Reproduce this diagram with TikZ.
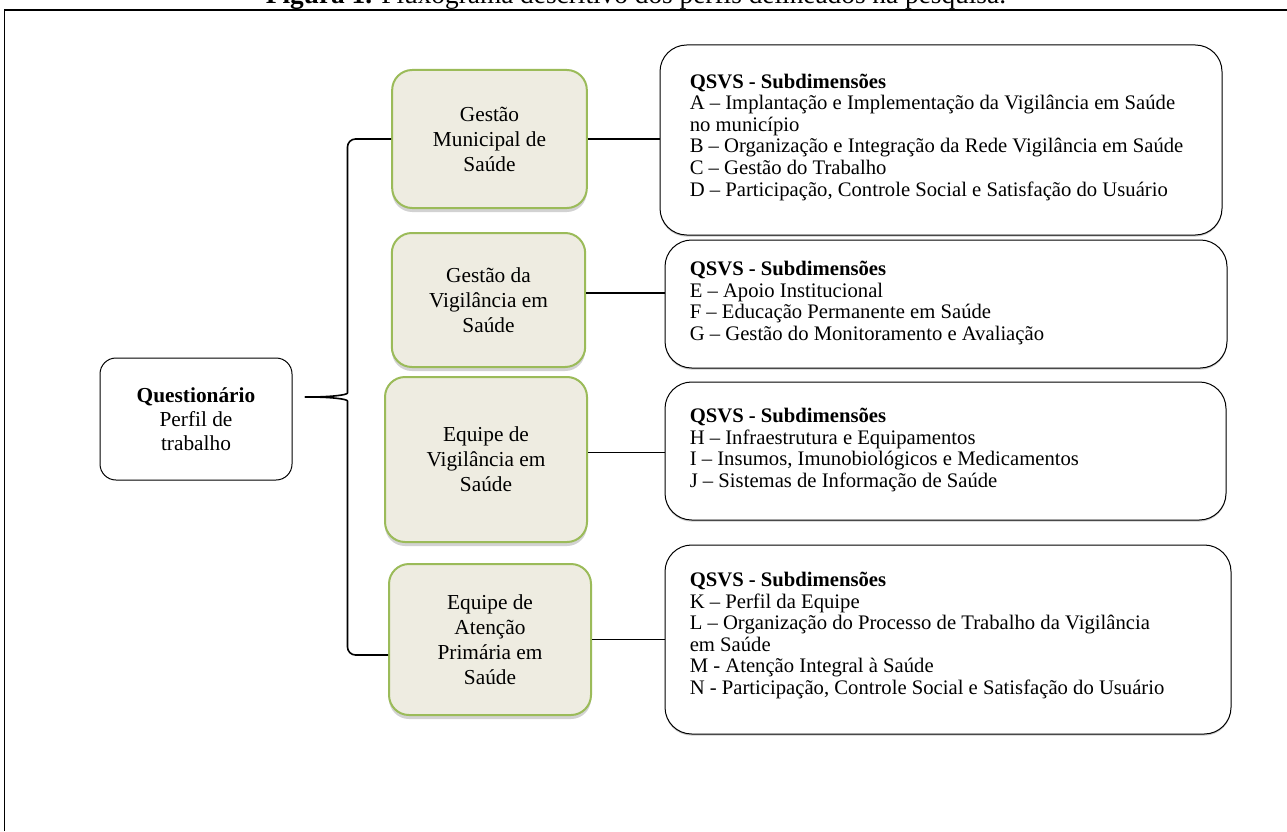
\documentclass[tikz,border=0pt]{standalone}
\usepackage{fontspec}
\setmainfont{Liberation Serif}
\usepackage{xcolor}
\usepackage{tikz}
\usetikzlibrary{calc,shadows}
\definecolor{ink}{HTML}{000000}
\definecolor{tan}{HTML}{EEECE1}
\definecolor{olive}{HTML}{9BBB59}
\definecolor{shade}{HTML}{7F7F7F}
\tikzset{
  profile/.style={draw=olive, fill=tan, line width=1.5pt, rounded corners=15pt, align=center,
    text=ink, font=\fontsize{16}{18.75}\selectfont,
    drop shadow={opacity=0.35, shadow xshift=0pt, shadow yshift=-3pt, fill=shade}},
  sub/.style={draw=ink, fill=white, line width=0.75pt, rounded corners=20pt,
    drop shadow={opacity=0.4, shadow xshift=0pt, shadow yshift=-1.2pt, fill=shade}},
  subtxt/.style={anchor=west, align=left, inner sep=0pt, text=ink, font=\fontsize{15.5}{16.2}\selectfont},
  quest/.style={draw=ink, fill=white, line width=0.75pt, rounded corners=12pt, align=center,
    minimum width=144pt, minimum height=91.5pt, text=ink, font=\fontsize{16}{18}\selectfont},
  link/.style={draw=ink, line width=1.2pt},
  brace/.style={draw=ink, line width=1.2pt, line join=round},
  frame/.style={draw=ink, line width=0.75pt},
  ttl/.style={text=ink, font=\fontsize{20.5}{22}\selectfont, anchor=base, inner sep=0pt},
}

\begin{document}
\begin{tikzpicture}[x=0.75pt, y=-0.75pt]
  \useasboundingbox (0,0) rectangle (1287,831);
  \fill[white] (0,0) rectangle (1287,831);
  \node[ttl] (title) at (636,4) {\textbf{Figura 1.} Fluxograma descritivo dos perfis delineados na pesquisa.};
  \draw[frame] (4,831) -- (4,10);
  \draw[frame, line width=1.5pt] (4,10) -- (1290,10);

  \node[quest] (q) at (196,419) {\textbf{Questionário}\\Perfil de\\trabalho};

  \node[profile, minimum width=146pt, minimum height=103.5pt] (b1) at (489.5,139) {Gestão\\Municipal de\\Saúde};
  \node[profile, minimum width=145pt, minimum height=100.5pt] (b2) at (488.5,300) {Gestão da\\Vigilância em\\Saúde};
  \node[profile, minimum width=151.5pt, minimum height=123.75pt] (b3) at (486,459.5) {Equipe de\\Vigilância em\\Saúde};
  \node[profile, minimum width=151.5pt, minimum height=113.25pt] (b4) at (490,639.5) {Equipe de\\Atenção\\Primária em\\Saúde};

  \node[sub, minimum width=421.5pt, minimum height=142.5pt] (t1) at (941,140) {};
  \node[sub, minimum width=421.5pt, minimum height=96pt] (t2) at (946,304) {};
  \node[sub, minimum width=420.75pt, minimum height=103.5pt] (t3) at (945.5,451) {};
  \node[sub, minimum width=424.5pt, minimum height=141.75pt] (t4) at (948,639.5) {};

  \node[subtxt] (t1x) at ($(t1.west)+(30,-3)$) {\textbf{QSVS - Subdimensões}\\
    A – Implantação e Implementação da Vigilância em Saúde\\
    no município\\
    B – Organização e Integração da Rede Vigilância em Saúde\\
    C – Gestão do Trabalho\\
    D – Participação, Controle Social e Satisfação do Usuário};
  \node[subtxt] (t2x) at ($(t2.west)+(25,-1)$) {\textbf{QSVS - Subdimensões}\\
    E – Apoio Institucional\\
    F – Educação Permanente em Saúde\\
    G – Gestão do Monitoramento e Avaliação};
  \node[subtxt] (t3x) at ($(t3.west)+(25,-1)$) {\textbf{QSVS - Subdimensões}\\
    H – Infraestrutura e Equipamentos\\
    I – Insumos, Imunobiológicos e Medicamentos\\
    J – Sistemas de Informação de Saúde};
  \node[subtxt] (t4x) at ($(t4.west)+(25,-4)$) {\textbf{QSVS - Subdimensões}\\
    K – Perfil da Equipe\\
    L – Organização do Processo de Trabalho da Vigilância\\
    em Saúde\\
    M - Atenção Integral à Saúde\\
    N - Participação, Controle Social e Satisfação do Usuário};

  \draw[link] (b1.east) -- (b1.east -| t1.west);
  \draw[link] ($(b2.east)+(0,-7)$) -- ($(b2.east -| t2.west)+(0,-7)$);
  \draw[link] ($(b3.east)+(0,-7)$) -- ($(b3.east -| t3.west)+(0,-7)$);
  \draw[link] (b4.east) -- (b4.east -| t4.west);

  \coordinate (tip) at ($(q.east)+(8,-22)$);
  \coordinate (bx) at ($(tip)+(47,0)$);
  \coordinate (b4s) at ($(b4.west)+(0,15.5)$);
  \draw[brace, rounded corners=6pt] (b1.west) -- (b1.west -| bx) -- ($(bx)+(0,-12)$)
    .. controls ($(bx)+(0,-2)$) and ($(tip)+(30,0)$) .. (tip)
    .. controls ($(tip)+(30,0)$) and ($(bx)+(0,2)$) .. ($(bx)+(0,12)$)
    -- (bx |- b4s) -- (b4s);
\end{tikzpicture}
\end{document}
